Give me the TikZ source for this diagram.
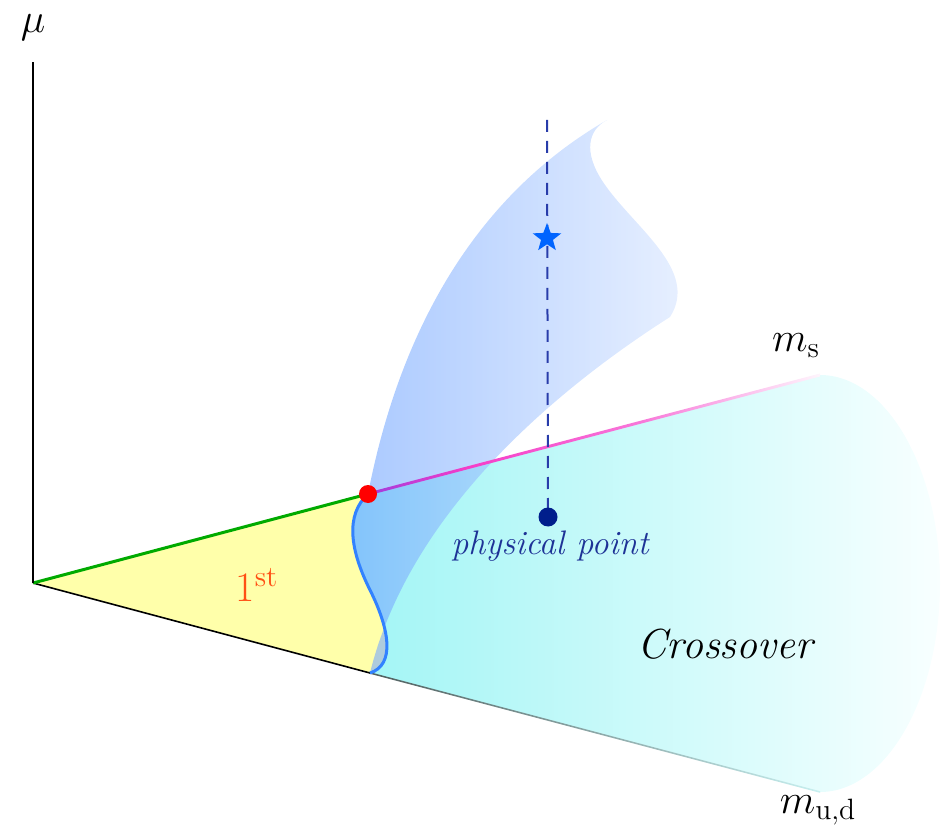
\documentclass[tikz,border=0pt]{standalone}
\usepackage{fontspec}
\usetikzlibrary{shapes.geometric,calc}
\definecolor{axgreen}{RGB}{0,170,0}
\definecolor{msP}{RGB}{160,60,220}
\definecolor{msM}{RGB}{245,60,200}
\definecolor{udG}{RGB}{80,95,95}
\definecolor{udL}{RGB}{200,240,240}
\definecolor{yel}{RGB}{255,255,170}
\definecolor{cyL}{RGB}{160,245,245}
\definecolor{cyR}{RGB}{248,255,255}
\definecolor{suL}{RGB}{110,163,255}
\definecolor{suR}{RGB}{220,232,255}
\definecolor{curveblue}{RGB}{50,130,255}
\definecolor{dashblue}{RGB}{40,60,170}
\definecolor{starblue}{RGB}{0,100,255}
\definecolor{navy}{RGB}{0,30,140}
\definecolor{ptext}{RGB}{30,50,150}
\definecolor{firstc}{RGB}{255,80,20}
\pgfdeclarehorizontalshading{msline}{100bp}{color(0bp)=(msP); color(25bp)=(msP); color(36bp)=(msM); color(55bp)=(msM!70!white); color(75bp)=(msM!5!white); color(100bp)=(msM!5!white)}
\pgfdeclarehorizontalshading{udline}{100bp}{color(0bp)=(udG); color(25bp)=(udG); color(75bp)=(udL); color(100bp)=(udL)}
\tikzset{
  axisline/.style={line width=0.8pt, black},
  lab/.style={inner sep=0pt, font=\fontsize{21}{24}\selectfont},
  dotmark/.style={circle, inner sep=0pt},
}
\begin{document}
\begin{tikzpicture}[x=0.5pt, y=-0.5pt]
\useasboundingbox (0,0) rectangle (946,833);
% key points
\coordinate (O) at (33,583);
\coordinate (MU) at (33,62);
\coordinate (R) at (368,494);
\coordinate (S) at (820,375);
\coordinate (B) at (370,673);
\coordinate (E) at (820,792);
\coordinate (T) at (607,120);
\coordinate (RE) at (940,583);
\coordinate (DT) at (547,120);
\coordinate (P) at (548,517);
% yellow first-order region
\fill[yel] (O) -- (R) .. controls (345,515) and (350,550) .. (370,590)
  .. controls (390,630) and (395,665) .. (B) -- cycle;
% cyan crossover region
\shade[left color=cyL, right color=cyR]
  (R) -- (S) .. controls (886,375) and (940,468) .. (RE)
  .. controls (940,698) and (886,792) .. (E) -- (B)
  .. controls (395,665) and (390,630) .. (370,590)
  .. controls (350,550) and (345,515) .. (R) -- cycle;
% blue surface
\shade[left color=suL, right color=suR, fill opacity=0.6]
  (R) .. controls (395,355) and (460,205) .. (T)
  .. controls (588,130) and (583,152) .. (603,182)
  .. controls (633,227) and (700,270) .. (670,317)
  .. controls (560,387) and (410,510) .. (B)
  .. controls (395,665) and (390,630) .. (370,590)
  .. controls (350,550) and (345,515) .. (R) -- cycle;
% m_ud axis
\draw[axisline] (O) -- (B);
\shade[shading=udline] ($(B)+(0,-0.8)$) -- ($(E)+(0,-0.8)$) -- ($(E)+(0,0.8)$) -- ($(B)+(0,0.8)$) -- cycle;
% m_s axis
\draw[axgreen, line width=1.5pt] (O) -- (R);
\shade[shading=msline] ($(R)+(0,-1.5)$) -- ($(S)+(0,-1.5)$) -- ($(S)+(0,1.5)$) -- ($(R)+(0,1.5)$) -- cycle;
% mu axis
\draw[axisline] (O) -- (MU);
% blue boundary curve
\draw[curveblue, line width=1.5pt] (R) .. controls (345,515) and (350,550) .. (370,590)
  .. controls (390,630) and (395,665) .. (B);
% dashed line, star, points
\draw[dashblue, line width=1pt, dash pattern=on 6pt off 4.5pt] (DT) -- (P);
\node[star, star points=5, star point ratio=2.4, fill=starblue, inner sep=0pt, minimum size=15pt] (st) at (547,238) {};
\node[dotmark, fill=red, minimum size=9pt] (rd) at (R) {};
\node[dotmark, fill=navy, minimum size=9.5pt] (pd) at (P) {};
% labels
\node[lab] (lmu) at (33,28) {$\mu$};
\node[lab] (lms) at (796,346) {$m_{\mathrm{s}}$};
\node[lab] (lud) at (818,810) {$m_{\mathrm{u,d}}$};
\node[inner sep=0pt, font=\fontsize{21}{24}\selectfont\itshape] (lc) at (725,644) {Crossover};
\node[inner sep=0pt, text=ptext, font=\fontsize{17}{19}\selectfont\itshape\addfontfeatures{LetterSpace=10}] (lp) at (550,546) {physical point};
\node[inner sep=0pt, text=firstc, font=\fontsize{21}{24}\selectfont] (l1) at (257,585) {1$^{\mathrm{st}}$};
\end{tikzpicture}
\end{document}
